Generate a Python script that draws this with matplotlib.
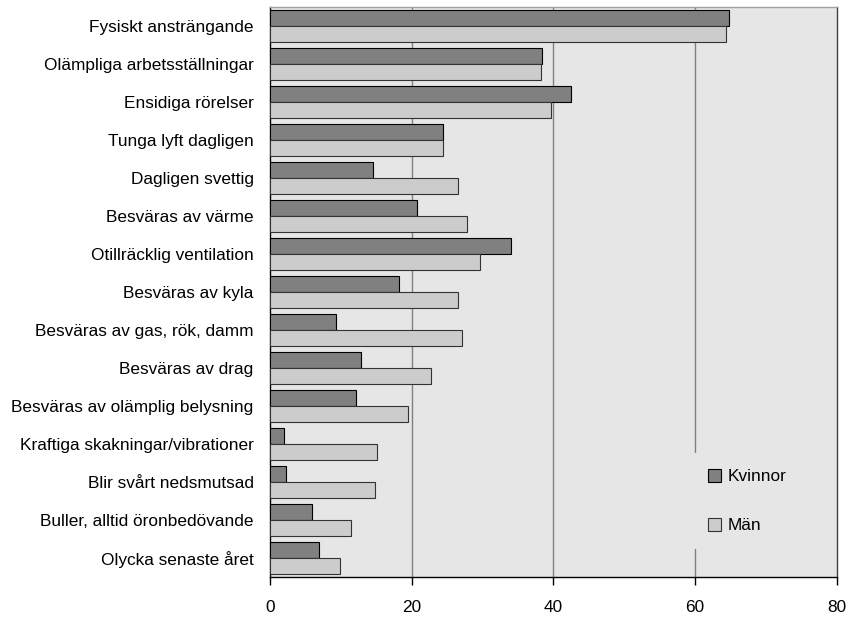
import numpy as np
import matplotlib.pyplot as plt

plt.rcParams['font.family'] = ['Liberation Sans Narrow', 'Liberation Sans', 'DejaVu Sans']

# Andel (%) som uppger respektive arbetsmiljöbesvär
kategorier = [
    'Fysiskt ansträngande',
    'Olämpliga arbetsställningar',
    'Ensidiga rörelser',
    'Tunga lyft dagligen',
    'Dagligen svettig',
    'Besväras av värme',
    'Otillräcklig ventilation',
    'Besväras av kyla',
    'Besväras av gas, rök, damm',
    'Besväras av drag',
    'Besväras av olämplig belysning',
    'Kraftiga skakningar/vibrationer',
    'Blir svårt nedsmutsad',
    'Buller, alltid öronbedövande',
    'Olycka senaste året',
]
kvinnor = [64.8, 38.4, 42.5, 24.5, 14.5, 20.8, 34.0, 18.2, 9.4, 12.9, 12.2, 2.0, 2.3, 6.0, 7.0]
man = [64.3, 38.3, 39.7, 24.4, 26.6, 27.8, 29.6, 26.5, 27.1, 22.7, 19.5, 15.2, 14.9, 11.4, 9.9]
xticks = [0, 20, 40, 60, 80]

bakgrund = '#e6e6e6'
fs = 12.4

fig = plt.figure(figsize=(8.55, 6.19), dpi=100)
ax = fig.add_axes([269.7 / 855, 1 - 577.3 / 619, (837 - 269.7) / 855, (577.3 - 7) / 619])
ax.set_facecolor(bakgrund)

y = np.arange(len(kategorier))
h = 0.42
ax.barh(y - h / 2, kvinnor, height=h, color='#808080', edgecolor='black', linewidth=0.8,
        label='Kvinnor', zorder=3)
ax.barh(y + h / 2, man, height=h, color='#cccccc', edgecolor='#333333', linewidth=0.8,
        label='Män', zorder=3)

ax.set_xlim(0, 80)
ax.set_ylim(len(kategorier) - 0.5, -0.5)
ax.set_xticks(xticks)
ax.set_xticklabels([str(v) for v in xticks], fontsize=fs)
ax.set_yticks(y)
ax.set_yticklabels(kategorier, fontsize=fs)
ax.tick_params(axis='y', length=0, pad=11.5)
ax.tick_params(axis='x', length=6, width=1, direction='out', pad=10, color='black')

# stödlinjer vid 20, 40 och 60
for v in xticks[1:-1]:
    ax.axvline(v, color='#808080', linewidth=1, zorder=1)

ax.spines['left'].set_color('black')
ax.spines['bottom'].set_color('black')
ax.spines['top'].set_color('#a0a0a0')
ax.spines['right'].set_color('#404040')
for s in ax.spines.values():
    s.set_linewidth(1)

leg = ax.legend(loc='center left', bbox_to_anchor=(692 / 855, 1 - 501 / 619),
                bbox_transform=fig.transFigure, fontsize=fs, frameon=True,
                facecolor=bakgrund, edgecolor='none', framealpha=1, fancybox=False,
                handlelength=0.8, handleheight=0.8, handletextpad=0.35,
                labelspacing=1.95, borderpad=0.9, borderaxespad=0)
leg.set_zorder(5)

fig.savefig('out.png', dpi=100)
